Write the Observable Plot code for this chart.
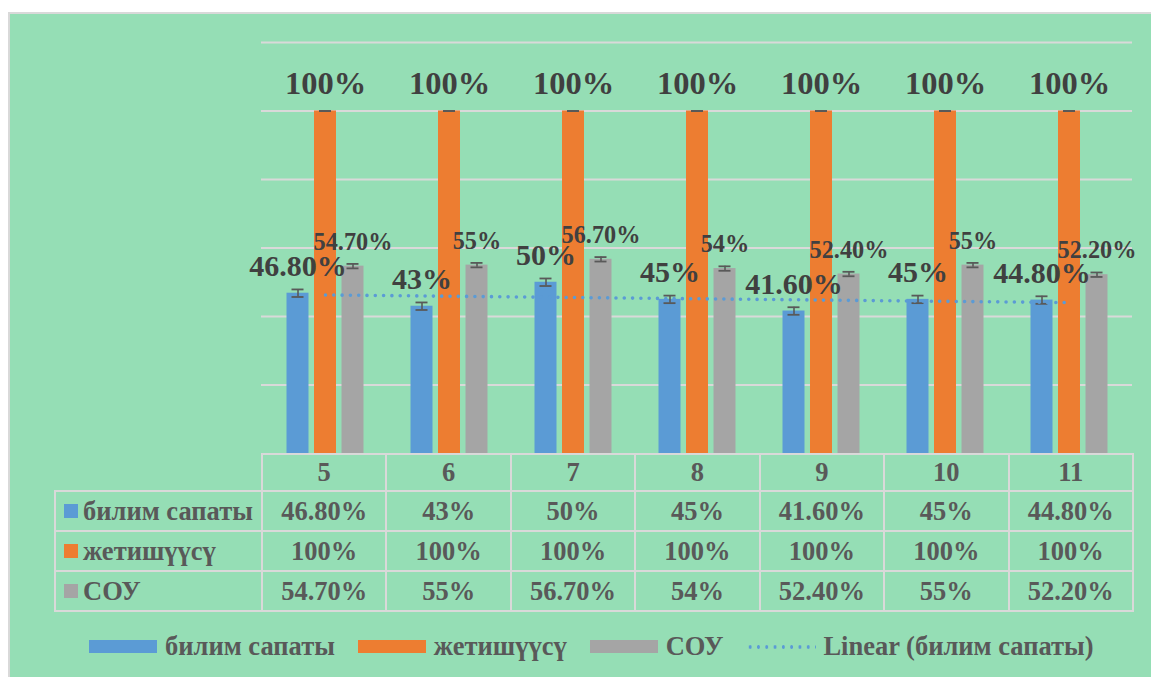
<!DOCTYPE html>
<html>
<head>
<meta charset="utf-8">
<script src="https://cdn.jsdelivr.net/npm/d3@7"></script>
<script src="https://cdn.jsdelivr.net/npm/@observablehq/plot@0.6"></script>
<style>
  html, body { margin: 0; padding: 0; background: #ffffff; }
  #wrap { position: relative; width: 1151px; height: 677px; overflow: hidden; }
  #panel { position: absolute; left: 8px; top: 12px; width: 1150px; height: 670px;
           background: #95DEB5; border-left: 2px solid #D9D9D9; border-top: 2px solid #D9D9D9; box-sizing: border-box; }
  #chart { position: absolute; left: 0; top: 0; }
  #table { position: absolute; left: 54px; top: 453px; border-collapse: collapse; table-layout: fixed;
           font-family: "Liberation Serif", "Times New Roman", "DejaVu Serif", serif; font-weight: bold; font-size: 26.5px; color: #595959; }
  #table td { border: 2px solid #D9D9D9; text-align: center; padding: 0; white-space: nowrap; }
  #table td.lab { text-align: left; padding-left: 8px; }
  #table td.blank { border-top: none; border-left: none; }
  .key { display: inline-block; width: 14px; height: 14px; margin-right: 5px; vertical-align: 2px; }
  #legend { position: absolute; left: 89px; top: 631px; display: flex; align-items: center;
            font-family: "Liberation Serif", "Times New Roman", "DejaVu Serif", serif; font-weight: bold; font-size: 26.5px; color: #595959; white-space: nowrap; }
  .lkey { display: inline-block; width: 68px; height: 13px; margin-right: 8px; }
  .litem { display: flex; align-items: center; margin-right: 23px; }
  .ldot { display: inline-block; width: 70px; height: 4px; margin-right: 7px;
          background-image: radial-gradient(circle, #5B9BD5 1.6px, transparent 1.9px);
          background-size: 8.3px 4px; background-repeat: repeat-x; }
</style>
</head>
<body>
<div id="wrap">
  <div id="panel"></div>
  <div id="chart"></div>
  <table id="table"></table>
  <div id="legend"></div>
</div>
<script>
// ---- data ----
const categories = ["5", "6", "7", "8", "9", "10", "11"];
const seriesNames = ["билим сапаты", "жетишүүсү", "СОУ"];
const bilimSapaty = [46.8, 43, 50, 45, 41.6, 45, 44.8];
const jetishuusu = [100, 100, 100, 100, 100, 100, 100];
const sou = [54.7, 55, 56.7, 54, 52.4, 55, 52.2];
const bilimLabels = ["46.80%", "43%", "50%", "45%", "41.60%", "45%", "44.80%"];
const jetishuusuLabels = ["100%", "100%", "100%", "100%", "100%", "100%", "100%"];
const souLabels = ["54.70%", "55%", "56.70%", "54%", "52.40%", "55%", "52.20%"];
const seriesErr = [1.1, 0, 0.65];
const gridTicks = [20, 40, 60, 80, 100, 120];
const trendName = "Linear (билим сапаты)";

const colors = ["#5B9BD5", "#ED7D31", "#A5A5A5"];
const seriesValues = [bilimSapaty, jetishuusu, sou];
const seriesLabels = [bilimLabels, jetishuusuLabels, souLabels];

const rows = [];
seriesNames.forEach((s, si) => {
  categories.forEach((c, ci) => {
    rows.push({cat: c, series: s, si, value: seriesValues[si][ci], label: seriesLabels[si][ci], err: seriesErr[si]});
  });
});

// linear trend of билим сапаты (least squares over category index)
const n = bilimSapaty.length;
const xs = d3.range(1, n + 1);
const mx = d3.mean(xs), my = d3.mean(bilimSapaty);
const slope = d3.sum(xs, (x, i) => (x - mx) * (bilimSapaty[i] - my)) / d3.sum(xs, x => (x - mx) ** 2);
const intercept = my - slope * mx;
const trend = categories.map((c, i) => ({cat: c, value: intercept + slope * xs[i]}));

const W = 1151, H = 460;
const mLeft = 261, mRight = 19, mTop = 42, mBottom = 7;
const step = (W - mLeft - mRight) / categories.length;
const barOffset = 27.5;
const pad = 1 - 22 / step;

const font = "'Liberation Serif', 'Times New Roman', 'DejaVu Serif', serif";

const marks = [
  Plot.ruleY(gridTicks, {stroke: "#D9D9D9", strokeWidth: 2})
];
seriesNames.forEach((s, si) => {
  const d = rows.filter(r => r.si === si);
  const dx = (si - 1) * barOffset;
  marks.push(Plot.barY(d, {x: "cat", y: "value", fill: colors[si], dx}));
});
seriesNames.forEach((s, si) => {
  const d = rows.filter(r => r.si === si);
  const dx = (si - 1) * barOffset;
  marks.push(Plot.ruleX(d, {x: "cat", y1: r => r.value - r.err, y2: r => r.value + r.err, stroke: "#595959", strokeWidth: 1.6, dx}));
  marks.push(Plot.tickY(d, {x: "cat", y: r => r.value - r.err, stroke: "#595959", strokeWidth: 1.8, dx, insetLeft: 5, insetRight: 5}));
  marks.push(Plot.tickY(d, {x: "cat", y: r => r.value + r.err, stroke: "#595959", strokeWidth: 1.8, dx, insetLeft: 5, insetRight: 5}));
});
marks.push(Plot.line(trend, {x: "cat", y: "value", stroke: "#5B9BD5", strokeWidth: 3.6, strokeDasharray: "0,8.3", strokeLinecap: "round"}));
const labelSizes = [30, 32.5, 24.3];
const labelDy = [-17.5, -17.5, -16.5];
seriesNames.forEach((s, si) => {
  const d = rows.filter(r => r.si === si);
  const dx = (si - 1) * barOffset;
  marks.push(Plot.text(d, {x: "cat", y: "value", text: "label", dx, dy: labelDy[si], lineAnchor: "bottom",
    fontSize: labelSizes[si], fontWeight: "bold", fontFamily: font, fill: "#404040"}));
});

const chart = Plot.plot({
  width: W, height: H,
  marginLeft: mLeft, marginRight: mRight, marginTop: mTop, marginBottom: mBottom,
  style: {background: "transparent", overflow: "visible"},
  x: {domain: categories, paddingInner: pad, paddingOuter: pad / 2, axis: null},
  y: {domain: [0, 120], axis: null},
  marks
});
document.getElementById("chart").appendChild(chart);

// ---- data table ----
const table = document.getElementById("table");
const colgroup = document.createElement("colgroup");
const c0 = document.createElement("col"); c0.style.width = (mLeft - 54) + "px"; colgroup.appendChild(c0);
categories.forEach(() => { const c = document.createElement("col"); c.style.width = step + "px"; colgroup.appendChild(c); });
table.appendChild(colgroup);
table.style.width = (W - mRight - 54) + "px";
const head = document.createElement("tr"); head.style.height = "37px";
const blank = document.createElement("td"); blank.className = "blank"; head.appendChild(blank);
categories.forEach(c => { const td = document.createElement("td"); td.textContent = c; head.appendChild(td); });
table.appendChild(head);
seriesNames.forEach((s, si) => {
  const tr = document.createElement("tr"); tr.style.height = "40px";
  const lab = document.createElement("td"); lab.className = "lab";
  const key = document.createElement("span"); key.className = "key"; key.style.background = colors[si];
  lab.appendChild(key); lab.appendChild(document.createTextNode(s));
  tr.appendChild(lab);
  seriesLabels[si].forEach(v => { const td = document.createElement("td"); td.textContent = v; tr.appendChild(td); });
  table.appendChild(tr);
});

// ---- legend ----
const legend = document.getElementById("legend");
seriesNames.forEach((s, si) => {
  const it = document.createElement("div"); it.className = "litem";
  const k = document.createElement("span"); k.className = "lkey"; k.style.background = colors[si];
  it.appendChild(k); it.appendChild(document.createTextNode(s));
  legend.appendChild(it);
});
const it = document.createElement("div"); it.className = "litem";
const k = document.createElement("span"); k.className = "ldot";
it.appendChild(k); it.appendChild(document.createTextNode(trendName));
legend.appendChild(it);
</script>
</body>
</html>
